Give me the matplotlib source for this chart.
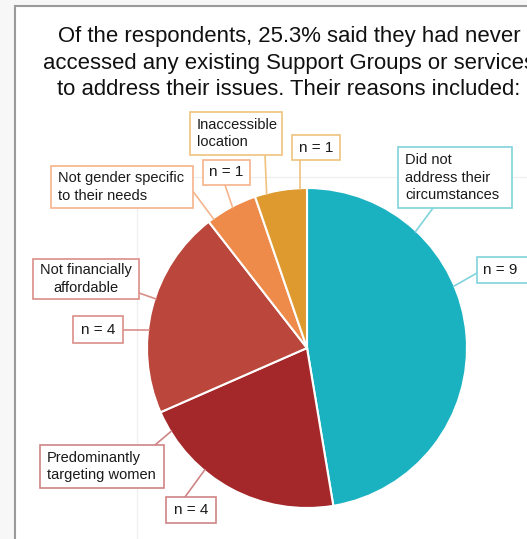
import numpy as np
import matplotlib.pyplot as plt
from matplotlib.patches import Rectangle

plt.rcParams['font.family'] = ['Liberation Sans', 'DejaVu Sans']

# data
reasons = ['Did not\naddress their\ncircumstances', 'Predominantly\ntargeting women',
           'Not financially\naffordable', 'Not gender specific\nto their needs',
           'Inaccessible\nlocation']
counts = [9, 4, 4, 1, 1]
colors = ['#1AB2C1', '#A4282A', '#BA463C', '#EE8A4A', '#DE9A2F']
edge_colors = ['#80D3DC', '#CF8486', '#DA8E88', '#F5B48C', '#EFC27E']
title = ('Of the respondents, 25.3% said they had never\n'
         'accessed any existing Support Groups or services\n'
         'to address their issues. Their reasons included:')

W, H = 527, 539
fig = plt.figure(figsize=(W / 100, H / 100), dpi=100)
fig.patch.set_facecolor('#f7f7f7')
ax = fig.add_axes([0, 0, 1, 1])

def Y(py):
    return H - py

cx, cy, R = 307, Y(348), 160
wedges, _ = ax.pie(counts, colors=colors, startangle=90, counterclock=False,
                   center=(cx, cy), radius=R, frame=True,
                   wedgeprops=dict(edgecolor='white', linewidth=1.5, zorder=1))
ax.set_xlim(0, W)
ax.set_ylim(0, H)
ax.set_aspect('equal')
ax.axis('off')

# panel frame
ax.add_patch(Rectangle((15, Y(560)), 600, 554, facecolor='white', edgecolor='#9a9a9a', lw=1.5, zorder=0))
ax.plot([137, 137], [Y(177), Y(539)], color='#f0f0f0', lw=1, zorder=0.5)
ax.plot([137, 527], [Y(177), Y(177)], color='#f0f0f0', lw=1, zorder=0.5)

# the original panel is cropped on the right, so the title runs past the edge
ax.text(289, Y(63), title, ha='center', va='center', fontsize=15.9, linespacing=1.36, color='#111111')

# label layout: (box left, top, right, bottom), text align, line start, angle on the pie edge
name_boxes = [
    ((398, 147, 512, 208), 'left', (433, 208), 47),
    ((40, 445, 164, 488), 'left', (155, 445), 211.5),
    ((33, 259, 139, 299), 'center', (139, 293), 162),
    ((51, 166, 193, 208), 'left', (192, 190), 125.9),
    ((190, 112, 282, 155), 'left', (265, 155), 104.7),
]
n_boxes = [
    ((477, 257, 545, 283), (477, 273), 22.8),
    ((166, 497, 216, 523), (185, 497), 230),
    ((73, 316, 123, 343), (123, 330), 173.5),
    ((203, 160, 250, 185), (225, 185), 117.9),
    ((292, 135, 340, 160), (300, 160), 92.5),
]

def attach(deg):
    a = np.deg2rad(deg)
    return cx + (R - 1) * np.cos(a), cy + (R - 1) * np.sin(a)

def draw_box(box, ec):
    l, t, r, b = box
    ax.add_patch(Rectangle((l, Y(b)), r - l, b - t, facecolor='white', edgecolor=ec, lw=1.2, zorder=3))

for lab, n, ec, nb, bb in zip(reasons, counts, edge_colors, name_boxes, n_boxes):
    box, align, start, ang = nb
    draw_box(box, ec)
    l, t, r, b = box
    tx = l + 7 if align == 'left' else (l + r) / 2
    ax.text(tx, Y((t + b) / 2), lab, ha=align, va='center', fontsize=10.5,
            linespacing=1.35, color='#1a1a1a', zorder=4)
    ex, ey = attach(ang)
    ax.plot([start[0], ex], [Y(start[1]), ey], color=ec, lw=1.2, zorder=2)

    box, start, ang = bb
    draw_box(box, ec)
    l, t, r, b = box
    tx = l + 6 if r > W else (l + r) / 2
    ax.text(tx, Y((t + b) / 2), f'n = {n}', ha='left' if r > W else 'center', va='center',
            fontsize=11, color='#1a1a1a', zorder=4)
    ex, ey = attach(ang)
    ax.plot([start[0], ex], [Y(start[1]), ey], color=ec, lw=1.2, zorder=2)

fig.savefig('out.png', dpi=100, facecolor=fig.get_facecolor())
